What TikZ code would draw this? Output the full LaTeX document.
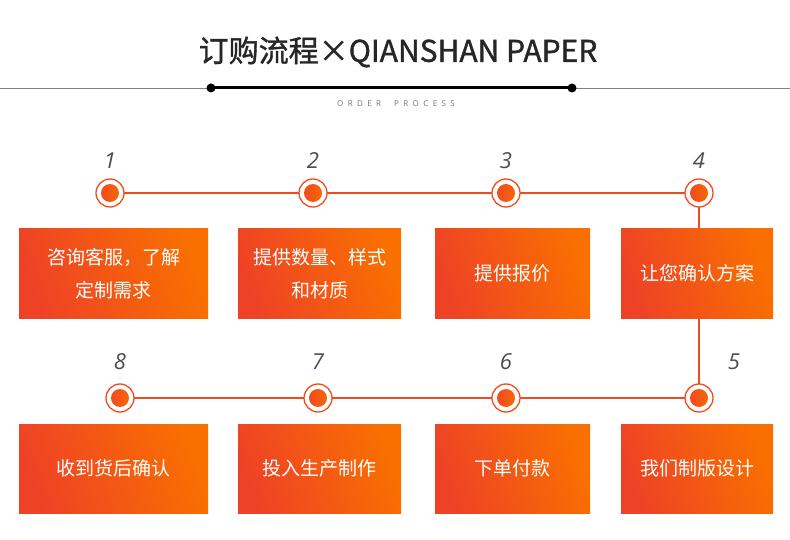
\documentclass[tikz,border=0pt]{standalone}
\usepackage{fontspec}
\setmainfont{Noto Sans CJK SC}
\newfontfamily\titlefont[FakeBold=1.2]{Noto Sans CJK SC}
\newfontfamily\numfont{Open Sans}
\newfontfamily\subfont[LetterSpace=55]{Open Sans}
\usetikzlibrary{positioning}
\definecolor{ored}{HTML}{EE4226}
\definecolor{oorg}{HTML}{F97000}
\definecolor{lnc}{HTML}{F04D1F}
\begin{document}
\begin{tikzpicture}[x=1pt,y=-1pt,
  box/.style={rectangle,minimum height=89pt,inner sep=0pt,text=white,font=\fontsize{19}{33}\selectfont,align=center,shading=axis,left color=ored,right color=oorg,shading angle=110},
  dotc/.style={circle,draw=lnc,line width=1.3pt,fill=white,minimum size=28pt,inner sep=0pt,path picture={\fill[left color=ored,right color=oorg] (path picture bounding box.center) circle (9pt);}},
  num/.style={font=\numfont\itshape\fontsize{22}{22}\selectfont,text=black!70},
  conn/.style={lnc,line width=1.5pt}]
\useasboundingbox (0,0) rectangle (790,540);
\fill[white] (0,0) rectangle (790,540);
\node[font=\titlefont\fontsize{30}{30}\selectfont,text=black!85] (title) at (398,52) {订购流程×QIANSHAN PAPER};
\draw[black!50,line width=0.8pt] (0,88) -- (790,88);
\coordinate (bl) at (211,88); \coordinate (br) at (572,88);
\draw[black,line width=3pt] (bl) -- (br);
\fill (bl) circle (4.5pt); \fill (br) circle (4.5pt);
\node[font=\subfont\fontsize{8}{8}\selectfont,text=black!55] (sub) at (396,104) {ORDER\ \ PROCESS};
% boxes
\node[box,minimum width=189pt] (b1) at (113.5,273.5) {咨询客服，了解\\定制需求};
\node[box,minimum width=163pt] (b2) at (319.5,273.5) {提供数量、样式\\和材质};
\node[box,minimum width=155pt] (b3) at (512.5,273.5) {提供报价};
\node[box,minimum width=152pt] (b4) at (697,273.5) {让您确认方案};
\node[box,minimum width=189pt] (b8) at (113.5,468.5) {收到货后确认};
\node[box,minimum width=163pt] (b7) at (319.5,468.5) {投入生产制作};
\node[box,minimum width=155pt] (b6) at (512.5,468.5) {下单付款};
\node[box,minimum width=152pt] (b5) at (697,468.5) {我们制版设计};
% connectors
\coordinate (c1) at (110,193); \coordinate (c2) at (313,193); \coordinate (c3) at (506,193); \coordinate (c4) at (699,193);
\coordinate (c8) at (120,398); \coordinate (c7) at (318,398); \coordinate (c6) at (506,398); \coordinate (c5) at (699,398);
\draw[conn] (c1) -- (c2) -- (c3) -- (c4) -- (c4 |- b4.north);
\draw[conn] (c4 |- b4.south) -- (c5) -- (c6) -- (c7) -- (c8);
\foreach \i in {1,...,8} \node[dotc] (d\i) at (c\i) {};
\node[num] at (110,161) {1};
\node[num] at (313,161) {2};
\node[num] at (506,161) {3};
\node[num] at (699,161) {4};
\node[num] at (734,362) {5};
\node[num] at (506,362) {6};
\node[num] at (318,362) {7};
\node[num] at (120,362) {8};
\end{tikzpicture}
\end{document}
